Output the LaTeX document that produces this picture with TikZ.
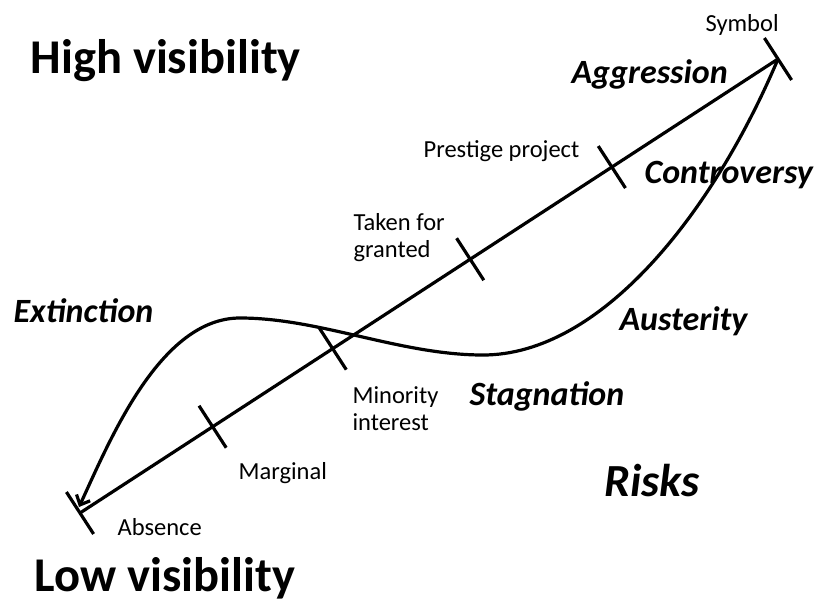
\documentclass[tikz,border=0pt]{standalone}
\usepackage{fontspec}
\setmainfont{Carlito}
\usetikzlibrary{calc,arrows.meta}

\begin{document}
\begin{tikzpicture}[x=1pt,y=-1pt,line width=3.2pt]
	\tikzset{pole/.style={font=\fontsize{48.5}{52}\selectfont\bfseries, anchor=base west, inner sep=0pt}}
	\tikzset{risk/.style={font=\fontsize{34}{38}\selectfont\bfseries\itshape, anchor=base west, inner sep=0pt}}
	\tikzset{stage/.style={font=\fontsize{24.5}{27}\selectfont, anchor=base west, inner sep=0pt, align=left}}

	\useasboundingbox (0,0) rectangle (815,603);

	\coordinate (absence) at (80,513);
	\coordinate (symbol) at (778,59);
	\draw (absence) -- (symbol);

	% ticks across the line
	\foreach \t/\name in {0/t0, 0.19/t1, 0.362/t2, 0.559/t3, 0.762/t4, 1/t5} {
		\coordinate (\name) at ($(absence)!\t!(symbol)$);
		\draw ([shift={(-13.6,-21)}]\name) -- ([shift={(13.6,21)}]\name);
	}

	% the risk curve
	\draw[-{Straight Barb[length=8pt,width=15pt]}] (symbol) .. controls (712,215) and (600,355) .. (483,355)
		.. controls (400,355) and (320,318) .. (240,318)
		.. controls (160,318) and (110,440) .. (79,507);

	\node[pole] (high) at (29,73) {High visibility};
	\node[pole] (low) at (33,591) {Low visibility};
	\node[pole, font=\fontsize{46}{50}\selectfont\bfseries\itshape] (risks) at (603,496) {Risks};

	\node[risk] (aggression) at (570,83) {Aggression};
	\node[risk] (controversy) at (643,183) {Controversy};
	\node[risk] (austerity) at (618,330) {Austerity};
	\node[risk] (stagnation) at (468,405) {Stagnation};
	\node[risk] (extinction) at (12,322) {Extinction};

	\node[stage] (lsymbol) at (704,31) {Symbol};
	\node[stage] (lprestige) at (422,157) {Prestige project};
	\node[stage] (ltaken) at (352,257) {Taken for\\granted};
	\node[stage] (lminority) at (351,430) {Minority\\interest};
	\node[stage] (lmarginal) at (237,479) {Marginal};
	\node[stage] (labsence) at (116,535) {Absence};
\end{tikzpicture}
\end{document}
